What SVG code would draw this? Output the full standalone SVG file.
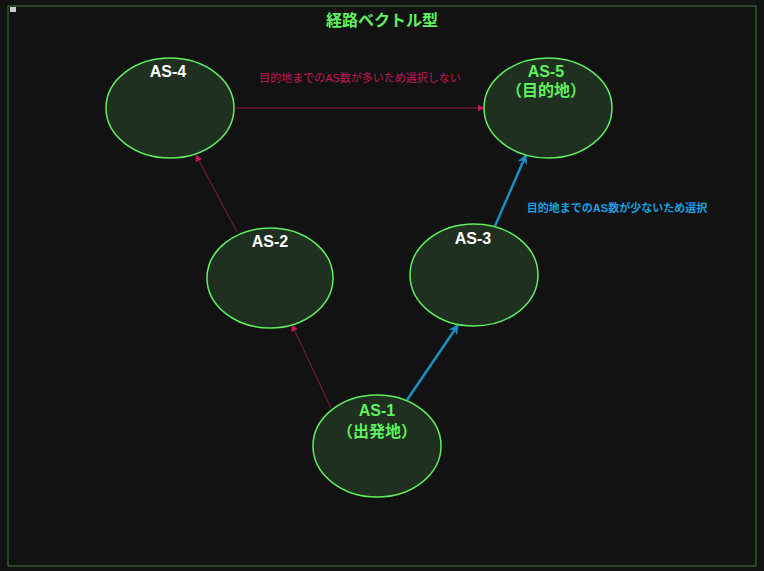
<svg xmlns="http://www.w3.org/2000/svg" width="764" height="571" viewBox="0 0 764 571">
<defs>
<marker id="mr" viewBox="0 0 10 10" refX="9" refY="5" markerWidth="7" markerHeight="7" orient="auto" markerUnits="userSpaceOnUse"><path d="M0,0 L10,5 L0,10 z" fill="#c2185b"/></marker>
<marker id="mb" viewBox="0 0 10 10" refX="9" refY="5" markerWidth="10" markerHeight="10" orient="auto" markerUnits="userSpaceOnUse"><path d="M0,0 L10,5 L0,10 L3,5 z" fill="#1a8fc4"/></marker>
</defs>
<style>
text{font-family:"Liberation Sans","Noto Sans CJK JP",sans-serif;text-anchor:middle}
.n{fill:#203020;stroke:#5ff05f;stroke-width:1.5}
.r{stroke:#8a1a40;stroke-width:1;fill:none;marker-end:url(#mr)}
.b{stroke:#1a8fc4;stroke-width:2.5;fill:none;marker-end:url(#mb)}
.w{fill:#ffffff;font-size:16px;font-weight:bold}
.g{fill:#5ff05f;font-size:16px;font-weight:bold}
</style>
<rect width="764" height="571" fill="#121212"/>
<rect x="8" y="6" width="748" height="560" fill="none" stroke="#3a7a3a" stroke-width="1"/>
<rect x="10" y="7" width="6" height="5" fill="#ccc"/>
<text x="382" y="26" fill="#5ff05f" font-size="16" font-weight="bold">経路ベクトル型</text>
<g id="connectors">
<line class="r" x1="331" y1="408" x2="292" y2="325"/>
<line class="r" x1="237" y1="232" x2="196" y2="155"/>
<line class="r" x1="234" y1="108" x2="484" y2="108"/>
<line class="b" x1="407" y1="400" x2="458" y2="325"/>
<line class="b" x1="495" y1="226" x2="526" y2="155"/>
<text x="360" y="82" fill="#c2185b" font-size="11">目的地までのAS数が多いため選択しない</text>
<text x="617" y="212" fill="#1aa0e0" font-size="11" font-weight="bold">目的地までのAS数が少ないため選択</text>
</g>
<g id="as4"><ellipse class="n" cx="170" cy="108" rx="64" ry="50"/><text class="w" x="168" y="77">AS-4</text></g>
<g id="as5"><ellipse class="n" cx="548" cy="108" rx="64" ry="50"/><text class="g" x="546" y="77">AS-5</text><text class="g" x="546" y="96">（目的地）</text></g>
<g id="as2"><ellipse class="n" cx="270" cy="278" rx="63" ry="50"/><text class="w" x="270" y="247">AS-2</text></g>
<g id="as3"><ellipse class="n" cx="474" cy="275" rx="64" ry="51"/><text class="w" x="473" y="244" fill="#eee">AS-3</text></g>
<g id="as1"><ellipse class="n" cx="377" cy="446" rx="64" ry="51"/><text class="g" x="377" y="416">AS-1</text><text class="g" x="377" y="437">（出発地）</text></g>
</svg>
